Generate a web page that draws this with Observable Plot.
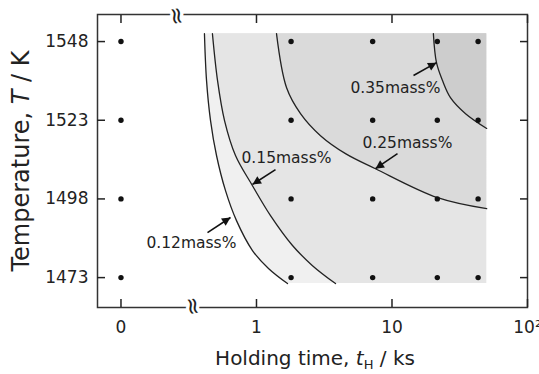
<!DOCTYPE html>
<html><head><meta charset="utf-8">
<script src="https://cdn.jsdelivr.net/npm/d3@7"></script>
<script src="https://cdn.jsdelivr.net/npm/@observablehq/plot@0.6"></script>
<style>html,body{margin:0;padding:0;background:#fff;}</style>
</head><body><div id="chart"></div>
<script>
// ---- data ----
const temperatures = [1473, 1498, 1523, 1548];          // K
const holdingTimes = [0, 1.8, 7.2, 21.6, 43.2];          // ks
const xTickValues = [0, 1, 10, 100];
const xTickLabels = ["0", "1", "10", "10²"];
const yTickValues = [1473, 1498, 1523, 1548];
const zeroPosition = 0.1;   // where t = 0 sits on the broken log axis
const breakTime = 0.3;      // axis-break symbol position

const levelNames = ["0.12mass%", "0.15mass%", "0.25mass%", "0.35mass%"];
const levelFills = ["#f0f0f0", "#e5e5e5", "#dadada", "#cdcdcd"];

const curve012_t = [0.413, 0.428, 0.458, 0.507, 0.590, 0.712, 0.934, 1.226, 1.694];
const curve012_T = [1550.5, 1535.6, 1522.9, 1511.8, 1500.7, 1491.1, 1481.6, 1475.9, 1471.1];
const curve015_t = [0.473, 0.516, 0.581, 0.700, 0.934, 1.269, 1.844, 2.59, 3.83];
const curve015_T = [1550.5, 1535.6, 1522.9, 1511.8, 1502.2, 1492.7, 1483.2, 1476.8, 1471.1];
const curve025_t = [1.405, 1.665, 2.113, 2.967, 4.54, 7.55, 21.7, 50];
const curve025_T = [1550.5, 1533.4, 1525.1, 1518.1, 1512.4, 1507.6, 1498.4, 1494.9];
const curve035_t = [20.2, 21.3, 23.6, 27.0, 34.9, 50];
const curve035_T = [1550.5, 1541.3, 1535.6, 1530.2, 1525.1, 1520.4];
const shadeRight = 50;

const labelTime = [0.331, 1.665, 13.0, 10.6];
const labelTemp = [1484.1, 1511.1, 1515.9, 1533.1];
const arrowFromTime = [0.435, 1.381, 10.98, 14.41];
const arrowFromTemp = [1487.3, 1507.3, 1512.4, 1537.2];
const arrowToTime = [0.643, 0.934, 7.55, 21.3];
const arrowToTemp = [1492.1, 1502.6, 1507.6, 1541.3];

// ---- build tables ----
const xmap = t => t === 0 ? zeroPosition : t;
const curves = [
  [curve012_t, curve012_T], [curve015_t, curve015_T],
  [curve025_t, curve025_T], [curve035_t, curve035_T]
].map(([ts, Ts], k) => ts.map((t, i) => ({t, T: Ts[i], k})));
const points = temperatures.flatMap(T => holdingTimes.map(t => ({t, T})));
const labels = levelNames.map((name, i) => ({name, t: labelTime[i], T: labelTemp[i]}));
const arrows = levelNames.map((name, i) => ({
  t1: arrowFromTime[i], T1: arrowFromTemp[i], t2: arrowToTime[i], T2: arrowToTemp[i]
}));
const xLabelMap = new Map(xTickValues.map((v, i) => [xmap(v), xTickLabels[i]]));

const ink = "#222";
const marks = [];
curves.forEach((c, k) => marks.push(
  Plot.areaX(c, {y: "T", x1: "t", x2: shadeRight, fill: levelFills[k], curve: "catmull-rom"})
));
curves.forEach(c => marks.push(
  Plot.line(c, {x: "t", y: "T", stroke: ink, strokeWidth: 1.3, curve: "catmull-rom"})
));
marks.push(
  Plot.dot(points, {x: d => xmap(d.t), y: "T", r: 2.7, fill: "#111"}),
  Plot.frame({stroke: "#333", strokeWidth: 1.5}),
  Plot.axisX(xTickValues.map(xmap), {anchor: "bottom", tickSize: -8, tickPadding: 21, strokeWidth: 1.5,
    tickFormat: d => xLabelMap.get(d), label: null}),
  Plot.axisX(xTickValues.map(xmap), {anchor: "top", tickSize: -8, strokeWidth: 1.5, tickFormat: () => "", label: null}),
  Plot.axisY(yTickValues, {anchor: "left", tickSize: -8, tickPadding: 17, strokeWidth: 1.5,
    tickFormat: d => String(d), label: null}),
  Plot.axisY(yTickValues, {anchor: "right", tickSize: -8, strokeWidth: 1.5, tickFormat: () => "", label: null}),
  Plot.text([breakTime], {x: d => d, frameAnchor: "top", text: () => "≈", rotate: 80, fontSize: 23,
    fill: ink, stroke: "white", strokeWidth: 7, paintOrder: "stroke"}),
  Plot.text([breakTime], {x: d => d, frameAnchor: "bottom", text: () => "≈", rotate: 80, fontSize: 23,
    fill: ink, stroke: "white", strokeWidth: 7, paintOrder: "stroke"}),
  Plot.link(arrows, {x1: "t1", y1: "T1", x2: "t2", y2: "T2", stroke: "#111", strokeWidth: 1.6, markerEnd: "arrow"}),
  Plot.text(labels, {x: "t", y: "T", text: "name", fontSize: 15.5, fill: ink})
);

const W = 539, H = 374, mL = 97, mR = 12, mT = 14, mB = 67;
const svg = Plot.plot({
  width: W, height: H,
  marginLeft: mL, marginRight: mR, marginTop: mT, marginBottom: mB,
  style: {fontFamily: "DejaVu Sans", fontSize: "17px", background: "white", color: ink},
  x: {type: "log", domain: [0.0671, 100], label: null},
  y: {domain: [1463.5, 1556.6], label: null},
  marks
});

// filled arrowheads
const s = d3.select(svg);
s.selectAll("marker").attr("overflow", "visible")
  .select("path").attr("d", "M-8,-4L0,0L-8,4Z").attr("fill", "#111").attr("stroke", "none");

// axis titles with italic symbols
const xt = s.append("text").attr("x", (mL + W - mR) / 2 + 3).attr("y", H - 9)
  .attr("text-anchor", "middle").attr("font-size", 20).attr("fill", ink).attr("font-family", "DejaVu Sans");
xt.append("tspan").text("Holding time, ");
xt.append("tspan").attr("font-style", "italic").text("t");
xt.append("tspan").attr("font-size", 13).attr("dy", 4).text("H");
xt.append("tspan").attr("dy", -4).text(" / ks");

const yt = s.append("text").attr("transform", `translate(29,161) rotate(-90)`)
  .attr("text-anchor", "middle").attr("font-size", 24).attr("fill", ink).attr("font-family", "DejaVu Sans");
yt.append("tspan").text("Temperature, ");
yt.append("tspan").attr("font-style", "italic").text("T");
yt.append("tspan").text(" / K");

document.getElementById("chart").appendChild(svg);
</script>
</body></html>
